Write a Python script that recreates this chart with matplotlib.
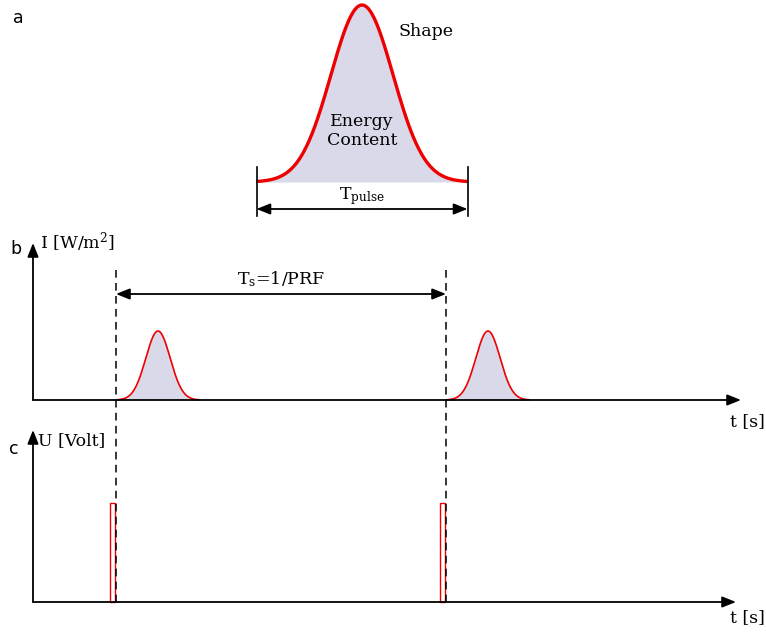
import numpy as np
import matplotlib.pyplot as plt

plt.rcParams['font.family'] = ['DejaVu Serif']
plt.rcParams['mathtext.fontset'] = 'dejavuserif'

# schematic values (in drawing units, y grows downward)
shape_center = 362
shape_halfwidth = 105.5
shape_sigma = 31
shape_base = 182
shape_peak = 5

trigger_times = [116, 446]      # dashed trigger lines
pulse_offset = 42               # pulse centre after trigger
pulse_halfwidth = 41
pulse_sigma = 12.2
pulse_height = 69
trigger_width = 5
trigger_height = 99

b_origin = (33, 400)
c_origin = (33, 602)
b_xend, c_xend = 741, 736
b_ytop, c_ytop = 243, 430

PURPLE = '#d9d9ea'
RED = '#ee0000'
FS = 12.5


def gauss(x, c, s):
    return np.exp(-(x - c) ** 2 / (2 * s ** 2))


def arrow(ax, x0, y0, x1, y1, style='-|>'):
    ax.annotate('', xy=(x1, y1), xytext=(x0, y0),
                arrowprops=dict(arrowstyle=style + ',head_length=0.75,head_width=0.3',
                                color='black', lw=1.3, shrinkA=0, shrinkB=0,
                                mutation_scale=11))


fig = plt.figure(figsize=(7.66, 6.33), dpi=100)
ax = fig.add_axes([0, 0, 1, 1])
ax.set_xlim(0, 766)
ax.set_ylim(633, 0)
ax.axis('off')

# panel a: single pulse shape
xa = np.linspace(shape_center - shape_halfwidth, shape_center + shape_halfwidth, 300)
ya = shape_base - (shape_base - shape_peak) * gauss(xa, shape_center, shape_sigma)
ax.fill_between(xa, ya, shape_base, color=PURPLE, lw=0)
ax.plot(xa, ya, color=RED, lw=2.4, solid_capstyle='butt')
for xe in (xa[0], xa[-1]):
    ax.plot([xe, xe], [167, 216], color='black', lw=1.2)
arrow(ax, xa[0], 209, xa[-1], 209, '<|-|>')
ax.text(shape_center, 199, r'T$_{\mathrm{pulse}}$', ha='center', va='baseline', fontsize=FS)
ax.text(shape_center, 131, 'Energy\nContent', ha='center', va='center', fontsize=FS,
        linespacing=1.1)
ax.text(426, 31, 'Shape', ha='center', va='center', fontsize=FS)
ax.text(18, 18, 'a', ha='center', va='center', fontsize=12.5, family='DejaVu Sans')

# panel b: intensity pulse train
arrow(ax, b_origin[0], b_origin[1], b_xend, b_origin[1])
arrow(ax, b_origin[0], b_origin[1], b_origin[0], b_ytop)
for t in trigger_times:
    c = t + pulse_offset
    xb = np.linspace(c - pulse_halfwidth, c + pulse_halfwidth, 200)
    yb = b_origin[1] - pulse_height * gauss(xb, c, pulse_sigma)
    ax.fill_between(xb, yb, b_origin[1], color=PURPLE, lw=0)
    ax.plot(xb, yb, color=RED, lw=1.2)
    ax.plot([t, t], [270, c_origin[1] + 3], color='black', lw=1.1, ls=(0, (5, 3.5)))
arrow(ax, trigger_times[0], 294, trigger_times[1], 294, '<|-|>')
ax.text(np.mean(trigger_times), 284, r'T$_{\mathrm{s}}$=1/PRF', ha='center', va='baseline',
        fontsize=FS)
ax.text(40, 248, r'I [W/m$^2$]', ha='left', va='baseline', fontsize=FS)
ax.text(16, 249, 'b', ha='center', va='center', fontsize=12.5, family='DejaVu Sans')
ax.text(765, 426, 't [s]', ha='right', va='baseline', fontsize=FS)

# panel c: trigger voltage
arrow(ax, c_origin[0], c_origin[1], c_xend, c_origin[1])
arrow(ax, c_origin[0], c_origin[1], c_origin[0], c_ytop)
for t in trigger_times:
    ax.add_patch(plt.Rectangle((t - trigger_width - 1, c_origin[1] - trigger_height),
                               trigger_width, trigger_height, fill=False,
                               edgecolor=RED, lw=1.0))
ax.text(38, 445, 'U [Volt]', ha='left', va='baseline', fontsize=FS)
ax.text(14, 449, 'c', ha='center', va='center', fontsize=12.5, family='DejaVu Sans')
ax.text(765, 622, 't [s]', ha='right', va='baseline', fontsize=FS)

fig.savefig('out.png', dpi=100)
